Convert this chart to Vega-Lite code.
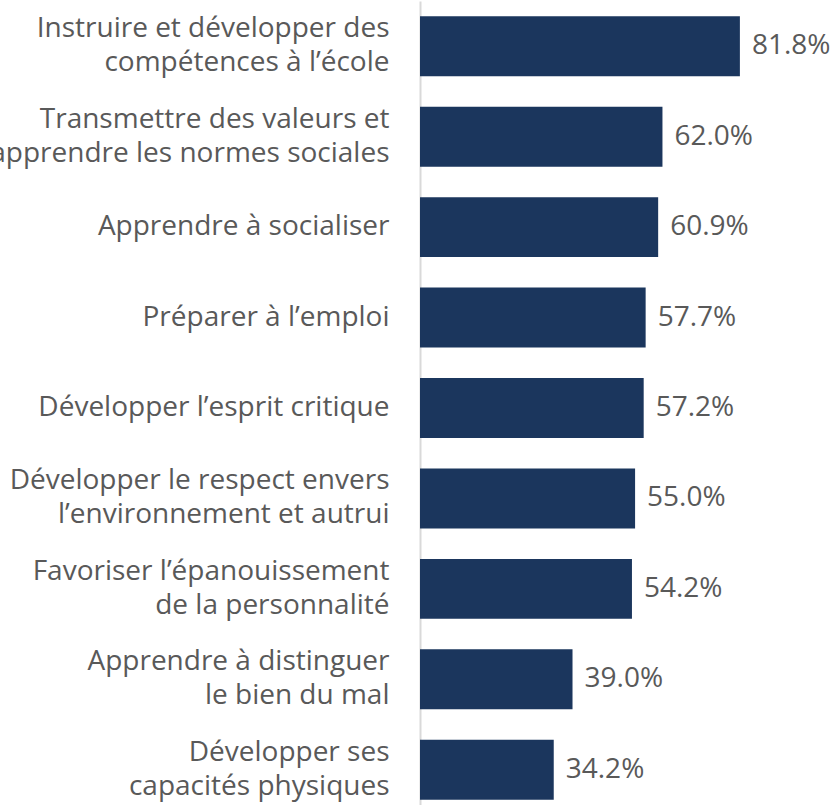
{
  "$schema": "https://vega.github.io/schema/vega-lite/v6.json",
  "autosize": "none",
  "width": 420,
  "height": 814,
  "padding": {"left": 420, "top": 1, "right": 0, "bottom": 0},
  "background": "white",
  "config": {"view": {"stroke": null}, "font": "Open Sans"},
  "data": {"values": [
    {"label": "Instruire et développer des|compétences à l’école", "value": 0.818},
    {"label": "Transmettre des valeurs et|apprendre les normes sociales", "value": 0.620},
    {"label": "Apprendre à socialiser", "value": 0.609},
    {"label": "Préparer à l’emploi", "value": 0.577},
    {"label": "Développer l’esprit critique", "value": 0.572},
    {"label": "Développer le respect envers|l’environnement et autrui", "value": 0.550},
    {"label": "Favoriser l’épanouissement|de la personnalité", "value": 0.542},
    {"label": "Apprendre à distinguer |le bien du mal", "value": 0.390},
    {"label": "Développer ses|capacités physiques", "value": 0.342}
  ]},
  "encoding": {
    "y": {"field": "label", "type": "nominal", "sort": null,
      "scale": {"paddingInner": 0.337, "paddingOuter": 0.1685},
      "axis": {"title": null, "ticks": false, "domainColor": "#d9d9d9", "domainWidth": 2,
        "labelExpr": "split(datum.value, '|')", "labelFontSize": 28, "labelColor": "#595959",
        "labelPadding": 31, "labelLineHeight": 34, "labelLimit": 0, "labelFont": "Open Sans",
        "labelOffset": {"condition": {"test": "indexof(datum.value, '|') >= 0", "value": -17}, "value": 0}}},
    "x": {"field": "value", "type": "quantitative", "scale": {"domain": [0, 1.074]}, "axis": null}
  },
  "layer": [
    {"mark": {"type": "bar", "color": "#1b365d"}},
    {"mark": {"type": "text", "align": "left", "dx": 12, "fontSize": 28, "color": "#595959", "font": "Open Sans"},
     "encoding": {"text": {"field": "value", "type": "quantitative", "format": ".1%"}}}
  ]
}
